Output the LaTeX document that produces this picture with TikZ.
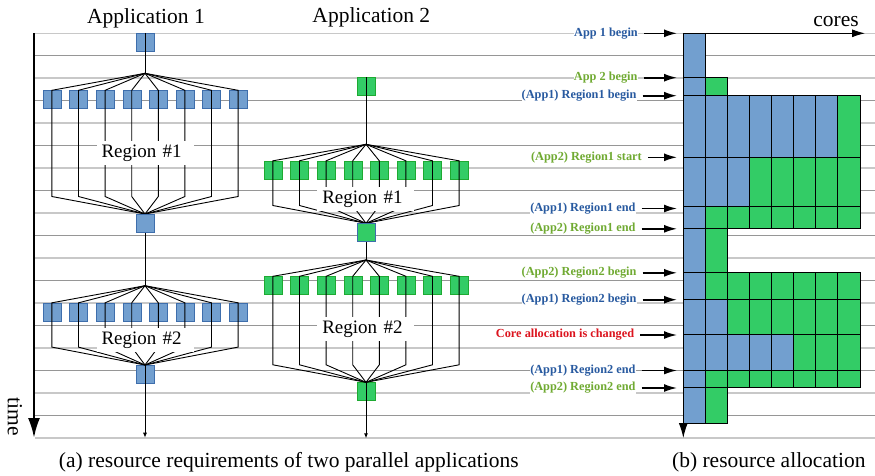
\documentclass[tikz,border=0pt]{standalone}
\usepackage{fontspec}
\setmainfont{Liberation Serif}
\usetikzlibrary{arrows.meta}

\definecolor{appblue}{RGB}{114,159,207}
\definecolor{appblueD}{RGB}{62,110,172}
\definecolor{appgreen}{RGB}{51,204,102}
\definecolor{appgreenD}{RGB}{30,170,50}
\definecolor{lblblue}{RGB}{40,90,160}
\definecolor{lblgreen}{RGB}{112,170,50}
\definecolor{lblred}{RGB}{220,20,30}
\definecolor{gridL}{RGB}{200,200,200}
\definecolor{gridD}{RGB}{150,150,150}

\begin{document}
\begin{tikzpicture}[x=1pt, y=-1pt,
    box1/.style={draw=appblueD, fill=appblue, minimum size=18pt, inner sep=0pt},
    box2/.style={draw=appgreenD, fill=appgreen, minimum size=18pt, inner sep=0pt},
    fan/.style={line width=0.9pt, black},
    region/.style={fill=white, font=\fontsize{19}{20}\selectfont, text width=87pt,
        align=left, inner xsep=5pt, inner ysep=3.5pt},
    big/.style={font=\fontsize{21.5}{23}\selectfont},
    lab/.style={font=\fontsize{12.3}{13}\selectfont\bfseries, fill=white,
        inner xsep=0pt, inner ysep=1pt, anchor=east},
    ptr/.style={-{Latex[length=13pt,width=8pt]}, line width=1.6pt, shorten <=6pt},
    cell/.style={draw=black, line width=0.9pt}]
    \useasboundingbox (0,0) rectangle (875,475);

    % 1. Lưới ngang
    \foreach \k in {0,...,18} {
        \pgfmathsetmacro\gy{33.3+22.47*\k}
        \ifodd\k
            \draw[gridD, line width=0.9pt] (35,\gy) -- (875,\gy);
        \else
            \draw[gridL, line width=1.5pt] (35,\gy) -- (875,\gy);
        \fi
    }

    % 2. Trục thời gian
    \coordinate (tTop) at (34,33.3);
    \coordinate (tBot) at (34,438);
    \draw[line width=2.6pt, -{Latex[length=20pt,width=12pt]}] (tTop) -- (tBot);
    \node[big, rotate=-90] (time) at (15,417) {time};

    % 3. Tiêu đề
    \node[big, anchor=base] (app1) at (146,23.3) {Application 1};
    \node[big, anchor=base] (app2) at (371.3,22.7) {Application 2};

    % 4. Application 1
    \node[box1] (a1s) at (145,42) {};
    \coordinate (a1f1) at (145,73.3);
    \coordinate (a1j1) at (145,214);
    \coordinate (a1f2) at (145,285.7);
    \coordinate (a1j2) at (145,365);
    \coordinate (a1end) at (145,437.7);
    \foreach \i in {1,...,8} {
        \node[box1] (a1r\i) at ({145+26.6*(\i-4.5)},99.5) {};
        \node[box1] (a1q\i) at ({145+26.6*(\i-4.5)},312) {};
    }
    \node[box1] (a1e2) at (145,374) {};
    \draw[fan] (a1s.north) -- (a1f1);
    \draw[fan] (a1j1) -- (a1f2);
    \draw[fan, -{Latex[length=5pt,width=4pt]}] (a1j2) -- (a1end);
    \foreach \i in {1,...,8} {
        \draw[fan] (a1f1) -- (a1r\i.north) -- ++(0,106.2) -- (a1j1);
        \draw[fan] (a1f2) -- (a1q\i.north) -- ++(0,44.3) -- (a1j2);
    }
    \node[box1] (a1e1) at (145,223) {};

    % 5. Application 2
    \node[box2] (a2s) at (366,86.2) {};
    \coordinate (a2f1) at (366,144.3);
    \coordinate (a2j1) at (366,223.3);
    \coordinate (a2f2) at (366,260);
    \coordinate (a2j2) at (366,382.3);
    \coordinate (a2end) at (366,438.3);
    \foreach \i in {1,...,8} {
        \node[box2] (a2r\i) at ({366+26.6*(\i-4.5)},170) {};
        \node[box2] (a2q\i) at ({366+26.6*(\i-4.5)},285.5) {};
    }
    \node[box2] (a2e2) at (366,391.3) {};
    \draw[fan] (a2s.north) -- (a2f1);
    \draw[fan] (a2j1) -- (a2f2);
    \draw[fan, -{Latex[length=5pt,width=4pt]}] (a2j2) -- (a2end);
    \foreach \i in {1,...,8} {
        \draw[fan] (a2f1) -- (a2r\i.north) -- ++(0,44.7) -- (a2j1);
        \draw[fan] (a2f2) -- (a2q\i.north) -- ++(0,88.5) -- (a2j2);
    }
    \node[box2, draw=appblueD] (a2e1) at (366,232.3) {};

    % 6. Nhãn vùng song song
    \node[region] (reg11) at (145,153.3) {Region \#1};
    \node[region] (reg12) at (145,340) {Region \#2};
    \node[region] (reg21) at (365.8,199) {Region \#1};
    \node[region] (reg22) at (365.8,329) {Region \#2};

    % 7. Trục của bảng cấp phát lõi
    \coordinate (c0) at (683.3,33.3);
    \coordinate (cEnd) at (865,33.3);
    \coordinate (cBot) at (683.3,438);
    \draw[line width=1pt, -{Latex[length=15pt,width=9pt]}] (c0) -- (cBot);
    \node[big, anchor=base] (cores) at (836,26) {cores};

    % 8. Các ô lõi: y trên / y dưới / số ô xanh dương / số ô
    \foreach \ya/\yb/\nb/\nc in {33.3/77.7/1/1, 77.7/95.7/1/2, 95.7/157.3/7/8,
        157.3/206.7/3/8, 206.7/228.3/1/8, 228.3/272.3/1/2, 272.3/299.3/1/8,
        299.3/334.3/2/8, 334.3/370/5/8, 370/387.3/1/8, 387.3/423.3/1/2} {
        \foreach \i in {1,...,\nc} {
            \ifnum\i>\nb \def\cc{appgreen}\else\def\cc{appblue}\fi
            \draw[cell, fill=\cc] ({683.3+22.08*(\i-1)},\ya) rectangle ++(22.08,{\yb-\ya});
        }
    }
    \draw[line width=1pt, -{Latex[length=13pt,width=8pt]}] (c0) -- (cEnd);

    % 9. Nhãn sự kiện
    \foreach \t/\c/\x/\y [count=\n] in {App 1 begin/lblblue/638/33.3,
        App 2 begin/lblgreen/637.7/77.7,
        (App1) Region1 begin/lblblue/636.7/95.7,
        (App2) Region1 start/lblgreen/642/157.3,
        (App1) Region1 end/lblblue/635.7/208.5,
        (App2) Region1 end/lblgreen/635.7/228.8,
        (App2) Region2 begin/lblgreen/636.7/272.8,
        (App1) Region2 begin/lblblue/636.7/299.7,
        Core allocation is changed/lblred/634.3/335,
        (App1) Region2 end/lblblue/635.7/370.5,
        (App2) Region2 end/lblgreen/635.7/388} {
        \node[lab, text=\c] (lab\n) at (\x,\y) {\t};
        \coordinate (tip\n) at (677,\y);
        \draw[ptr] (lab\n.east) -- (tip\n);
    }

    % 10. Chú thích
    \node[big, anchor=base] (capA) at (288.8,467.3) {(a) resource requirements of two parallel applications};
    \node[big, anchor=base] (capB) at (768.8,467) {(b) resource allocation};
\end{tikzpicture}
\end{document}
